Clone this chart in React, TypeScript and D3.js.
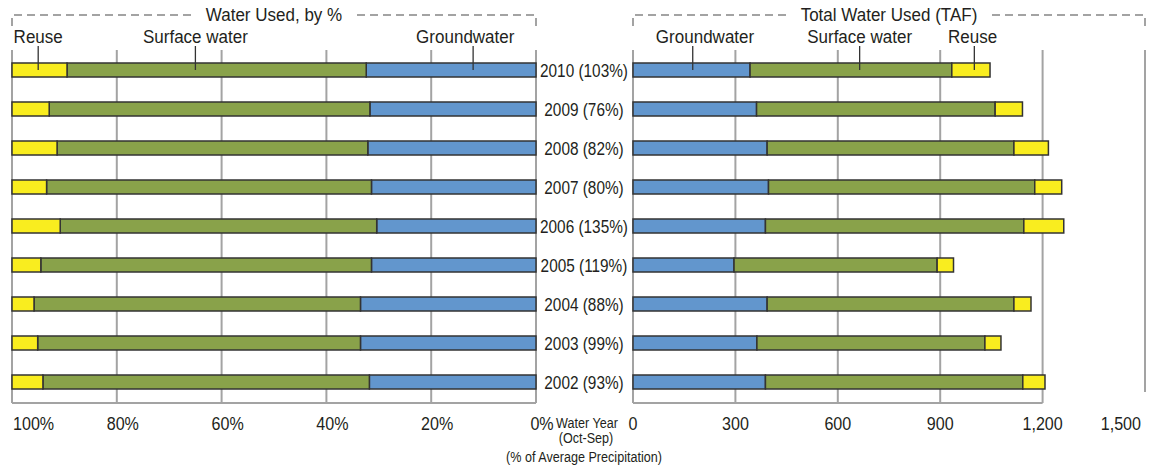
import React, { useEffect, useRef } from "react";
import * as d3 from "d3";

// water years, top to bottom, with % of average precipitation
const years = ["2010", "2009", "2008", "2007", "2006", "2005", "2004", "2003", "2002"];
const precipPct = [103, 76, 82, 80, 135, 119, 88, 99, 93];

// left panel: share of water used, %
const reusePct = [10.5, 7.1, 8.6, 6.6, 9.2, 5.5, 4.2, 4.9, 5.9];
const surfacePct = [57.1, 61.2, 59.3, 62.0, 60.4, 63.1, 62.3, 61.6, 62.3];
const groundPct = [32.4, 31.7, 32.1, 31.4, 30.4, 31.4, 33.5, 33.5, 31.8];

// right panel: total water used, TAF
const groundTaf = [343, 362, 393, 397, 388, 296, 393, 363, 388];
const surfaceTaf = [591, 699, 723, 780, 757, 595, 723, 668, 754];
const reuseTaf = [112, 80, 101, 79, 117, 48, 50, 47, 65];

const pctTicks = [100, 80, 60, 40, 20, 0];
const tafTicks = [0, 300, 600, 900, 1200, 1500];

const W = 1155;
const H = 472;
const FONT = "'Liberation Sans', Arial, sans-serif";
const INK = "#231f20";
const GRID = "#a3a3a3";
const colors: Record<string, string> = { ground: "#6296cd", surface: "#89a24a", reuse: "#f9ed1f" };

type Sel = d3.Selection<any, any, any, any>;

// condensed text placed via transform (Arial squeezed to look like Arial Narrow)
function label(parent: Sel, x: number, y: number, text: string, size: number, sx: number, anchor = "middle") {
  return parent
    .append("text")
    .attr("transform", `translate(${x},${y}) scale(${sx},1)`)
    .attr("text-anchor", anchor)
    .attr("font-size", size)
    .attr("fill", INK)
    .text(text);
}

export default function App() {
  const ref = useRef<SVGSVGElement>(null);

  useEffect(() => {
    const svg = d3.select(ref.current);
    svg.selectAll("*").remove();
    svg.style("font-family", FONT);

    const top = 50;
    const bottom = 403;
    const barH = 14;
    const y = d3.scalePoint<string>().domain(years).range([70, 382]);
    const xPct = d3.scaleLinear().domain([100, 0]).range([12, 536]);
    const xTaf = d3.scaleLinear().domain([0, 1500]).range([633, 1145]);

    const keys = ["ground", "surface", "reuse"];
    const pctRows = years.map((yr, i) => ({ year: yr, ground: groundPct[i], surface: surfacePct[i], reuse: reusePct[i] }));
    const tafRows = years.map((yr, i) => ({ year: yr, ground: groundTaf[i], surface: surfaceTaf[i], reuse: reuseTaf[i] }));
    const stack = d3.stack<any>().keys(keys);

    // grid
    const grid = svg.append("g").attr("stroke", GRID).attr("stroke-width", 2);
    pctTicks.forEach((t) => {
      grid.append("line").attr("x1", xPct(t)).attr("x2", xPct(t)).attr("y1", top).attr("y2", bottom);
    });
    grid.append("line").attr("x1", xPct(100)).attr("x2", xPct(0)).attr("y1", bottom).attr("y2", bottom);
    tafTicks.forEach((t) => {
      grid.append("line").attr("x1", xTaf(t)).attr("x2", xTaf(t)).attr("y1", top).attr("y2", t === 1500 ? 392 : bottom);
    });
    grid.append("line").attr("x1", xTaf(0)).attr("x2", xTaf(1200)).attr("y1", bottom).attr("y2", bottom);

    // bars
    const drawBars = (rows: any[], x: d3.ScaleLinear<number, number>) => {
      const g = svg.append("g");
      stack(rows).forEach((layer) => {
        g.selectAll(null)
          .data(layer)
          .join("rect")
          .attr("x", (d: any) => Math.min(x(d[0]), x(d[1])))
          .attr("width", (d: any) => Math.abs(x(d[1]) - x(d[0])))
          .attr("y", (d: any) => (y(d.data.year) as number) - barH / 2)
          .attr("height", barH)
          .attr("fill", colors[layer.key])
          .attr("stroke", "#333")
          .attr("stroke-width", 1.5);
      });
    };
    drawBars(pctRows, xPct);
    drawBars(tafRows, xTaf);

    // category labels
    const cats = svg.append("g");
    years.forEach((yr, i) => {
      label(cats, 584, (y(yr) as number) + 6.8, `${yr} (${precipPct[i]}%)`, 18.5, 0.83);
    });

    // tick labels
    const ticks = svg.append("g");
    pctTicks.forEach((t) => {
      if (t === 100) label(ticks, xPct(t) + 1, 430, `${t}%`, 18.5, 0.87, "start");
      else label(ticks, xPct(t) + 6, 430, `${t}%`, 18.5, 0.87);
    });
    tafTicks.forEach((t) => {
      const txt = d3.format(",")(t);
      if (t === 1500) label(ticks, xTaf(t) - 4, 430, txt, 18.5, 0.87, "end");
      else label(ticks, xTaf(t), 430, txt, 18.5, 0.87);
    });

    // axis caption
    const cap = svg.append("g");
    label(cap, 587, 428, "Water Year", 15, 0.84);
    label(cap, 586, 443, "(Oct-Sep)", 15, 0.84);
    label(cap, 584, 462, "(% of Average Precipitation)", 15, 0.84);

    // bracketed titles
    const bracket = (x0: number, x1: number, title: string) => {
      const cx = (x0 + x1) / 2;
      const sx = 0.92;
      const t = label(svg, cx, 21, title, 18.5, sx);
      const tw = (t.node() as SVGTextElement).getComputedTextLength() * sx;
      const g = svg.append("g").attr("stroke", GRID).attr("stroke-width", 2).attr("fill", "none");
      g.append("path").attr("d", `M${x0},26V15H${cx - tw / 2 - 10}`).attr("stroke-dasharray", "8,5");
      g.append("path").attr("d", `M${x1},26V15H${cx + tw / 2 + 10}`).attr("stroke-dasharray", "8,5");
    };
    bracket(xPct(100), xPct(0), "Water Used, by %");
    bracket(xTaf(0), xTaf(1500), "Total Water Used (TAF)");

    // series labels with leader lines into the 2010 bar
    const y0 = y(years[0]) as number;
    const legend = [
      { text: "Reuse", lx: xPct(95), tx: xPct(95) },
      { text: "Surface water", lx: xPct(65), tx: xPct(65) },
      { text: "Groundwater", lx: xPct(12), tx: xPct(13.5) },
      { text: "Groundwater", lx: xTaf(175), tx: xTaf(211) },
      { text: "Surface water", lx: xTaf(664), tx: xTaf(664) },
      { text: "Reuse", lx: xTaf(1000), tx: xTaf(995) },
    ];
    const lg = svg.append("g");
    lg.selectAll("line")
      .data(legend)
      .join("line")
      .attr("x1", (d) => d.lx)
      .attr("x2", (d) => d.lx)
      .attr("y1", 46)
      .attr("y2", y0)
      .attr("stroke", "#333")
      .attr("stroke-width", 1.3);
    legend.forEach((d) => label(lg, d.tx, 42.5, d.text, 18.5, 0.92));
  }, []);

  return (
    <div style={{ position: "absolute", left: 0, top: 0 }}>
      <svg ref={ref} width={W} height={H} style={{ display: "block", background: "#fff" }} />
    </div>
  );
}
